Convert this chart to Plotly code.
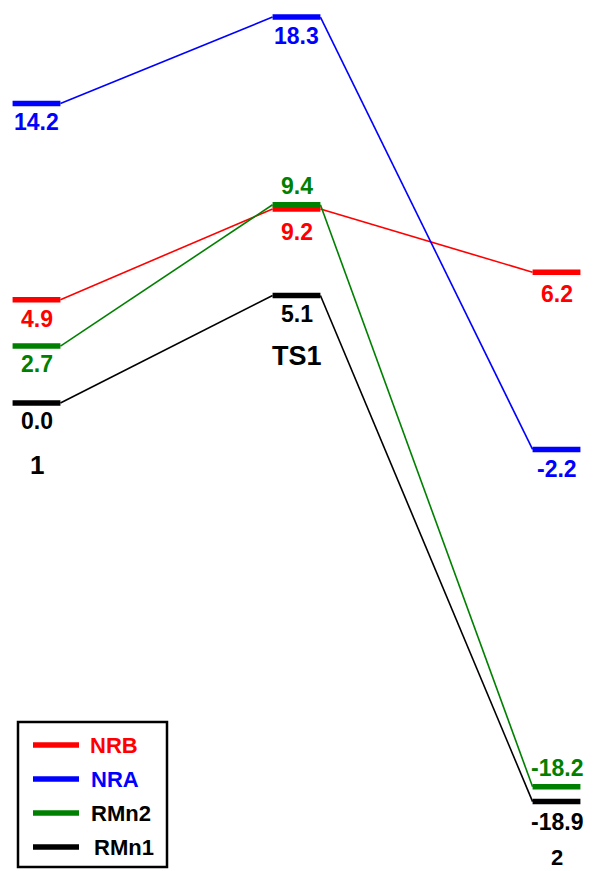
import plotly.graph_objects as go

states = ["1", "TS1", "2"]
series_names = ["NRB", "NRA", "RMn2", "RMn1"]
NRB = [4.9, 9.2, 6.2]
NRA = [14.2, 18.3, -2.2]
RMn2 = [2.7, 9.4, -18.2]
RMn1 = [0.0, 5.1, -18.9]
values = [NRB, NRA, RMn2, RMn1]

colors = ["#FF0000", "#0000FF", "#008000", "#000000"]
legend_text_colors = ["#FF0000", "#0000FF", "#000000", "#000000"]
# label offsets in px (negative = below bar)
label_shift = [
    [-19, -23, -22],
    [-18, -19, -20],
    [-18, 19, 19],
    [-18, -19, -20],
]

W, H = 595, 871
hw = 0.092  # half width of a level bar (in x units)
font = "Liberation Sans, Arial, sans-serif"

fig = go.Figure()
for name, vals, col in zip(series_names, values, colors):
    cx, cy = [], []
    for i in range(len(vals) - 1):
        cx += [i + hw, i + 1 - hw, None]
        cy += [vals[i], vals[i + 1], None]
    fig.add_trace(go.Scatter(x=cx, y=cy, mode="lines", line=dict(color=col, width=1.6),
                             showlegend=False, hoverinfo="skip"))
for name, vals, col in zip(series_names, values, colors):
    bx, by = [], []
    for i, v in enumerate(vals):
        bx += [i - hw, i + hw, None]
        by += [v, v, None]
    fig.add_trace(go.Scatter(x=bx, y=by, mode="lines", name=name,
                             line=dict(color=col, width=5.5), showlegend=False))

annotations = []
for vals, col, shifts in zip(values, colors, label_shift):
    for i, v in enumerate(vals):
        annotations.append(dict(x=i, y=v, text=f"<b>{v:.1f}</b>", showarrow=False,
                                yshift=shifts[i], font=dict(family=font, size=23, color=col)))

state_y = [min(v[0] for v in values), min(values[3][1], values[2][1]), min(v[2] for v in values)]
state_shift = [-62, -61, -56]
state_size = [26, 27, 22]
for i, s in enumerate(states):
    annotations.append(dict(x=i, y=state_y[i], text=f"<b>{s}</b>", showarrow=False,
                            yshift=state_shift[i], borderpad=0,
                            font=dict(family=font, size=state_size[i], color="black")))

def px(x):
    return x / W

def py(y):
    return 1 - y / H

shapes = [dict(type="rect", xref="paper", yref="paper", x0=px(18), x1=px(167),
               y0=py(867), y1=py(722), line=dict(color="black", width=2.5))]
leg_y = [745, 779, 813, 847]
leg_tx = [88, 89, 89, 92]
for name, col, tcol, yy, tx in zip(series_names, colors, legend_text_colors, leg_y, leg_tx):
    shapes.append(dict(type="line", xref="paper", yref="paper", x0=px(33), x1=px(79),
                       y0=py(yy), y1=py(yy), line=dict(color=col, width=5.5)))
    annotations.append(dict(xref="paper", yref="paper", x=px(tx), y=py(yy), text=f"<b>{name}</b>",
                            showarrow=False, xanchor="left", yanchor="middle",
                            font=dict(family=font, size=22, color=tcol)))

x0_px, dx_px = 36.5, 260.0
y0_px, dy_px = 403.0, 21.09
fig.update_layout(
    width=W, height=H, margin=dict(l=0, r=0, t=0, b=0),
    paper_bgcolor="white", plot_bgcolor="white",
    xaxis=dict(range=[-x0_px / dx_px, (W - x0_px) / dx_px], visible=False, fixedrange=True),
    yaxis=dict(range=[-(H - y0_px) / dy_px, y0_px / dy_px], visible=False, fixedrange=True),
    annotations=annotations, shapes=shapes, showlegend=False,
)
fig.write_html("out.html", config={"displayModeBar": False},
               post_script="document.body.style.margin='0';document.body.style.overflow='hidden';")
